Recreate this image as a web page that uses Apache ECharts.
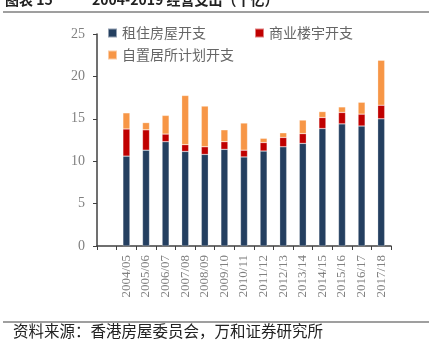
<!DOCTYPE html>
<html>
<head>
<meta charset="utf-8">
<script src="https://cdn.jsdelivr.net/npm/echarts@6/dist/echarts.min.js"></script>
<style>
  html, body { margin: 0; padding: 0; background: #fff; }
</style>
</head>
<body>
<div id="chart" style="width: 429px; height: 350px;"></div>
<script>
    // 年份（第一个为空位）
    var years = ['', '2004/05', '2005/06', '2006/07', '2007/08', '2008/09', '2009/10', '2010/11',
        '2011/12', '2012/13', '2013/14', '2014/15', '2015/16', '2016/17', '2017/18'];
    // 租住房屋开支
    var rentData = ['-', 10.6, 11.3, 12.3, 11.15, 10.8, 11.4, 10.5, 11.2, 11.7, 12.1, 13.85, 14.4, 14.15, 15.0];
    // 商业楼宇开支
    var commData = ['-', 3.2, 2.4, 0.9, 0.8, 0.9, 0.9, 0.8, 1.0, 1.1, 1.15, 1.3, 1.35, 1.4, 1.6];
    // 自置居所计划开支
    var hosData = ['-', 1.9, 0.85, 2.2, 5.8, 4.8, 1.4, 3.2, 0.5, 0.55, 1.6, 0.7, 0.65, 1.4, 5.3];
    var yTicks = [0, 5, 10, 15, 20, 25];

    var serif = '"Liberation Serif", "Noto Sans CJK SC", serif';
    var cjk = '"Noto Sans CJK SC", sans-serif';

    var chart = echarts.init(document.getElementById('chart'));
    chart.setOption({
        animation: false,
        color: ['#243F60', '#C00000', '#F79646'],
        grid: {
            left: 97,
            right: 38,
            top: 34,
            bottom: 104
        },
        legend: [{
            data: ['租住房屋开支', '商业楼宇开支'],
            left: 107,
            top: 26,
            padding: 0,
            itemWidth: 9,
            itemHeight: 9,
            itemGap: 48,
            icon: 'rect',
            textStyle: {color: '#666', fontSize: 14, fontFamily: cjk}
        }, {
            data: ['自置居所计划开支'],
            left: 107,
            top: 48,
            padding: 0,
            itemWidth: 9,
            itemHeight: 9,
            icon: 'rect',
            textStyle: {color: '#666', fontSize: 14, fontFamily: cjk}
        }],
        xAxis: {
            type: 'category',
            data: years,
            axisLine: {lineStyle: {color: '#404040', width: 1.5}},
            axisTick: {show: true, length: 4, lineStyle: {color: '#404040'}},
            axisLabel: {
                rotate: 90,
                interval: 0,
                color: '#808080',
                fontSize: 13,
                fontFamily: serif,
                margin: 9
            }
        },
        yAxis: {
            type: 'value',
            min: yTicks[0],
            max: yTicks[yTicks.length - 1],
            interval: 5,
            axisLine: {show: true, lineStyle: {color: '#404040', width: 1.5}},
            axisTick: {show: true, length: 4, lineStyle: {color: '#404040'}},
            splitLine: {show: false},
            axisLabel: {color: '#808080', fontSize: 14, fontFamily: serif, margin: 12}
        },
        series: [{
            name: '租住房屋开支',
            type: 'bar',
            stack: 'total',
            barWidth: 7,
            data: rentData,
            itemStyle: {borderColor: 'rgba(255,255,255,0.5)', borderWidth: 0.5}
        }, {
            name: '商业楼宇开支',
            type: 'bar',
            stack: 'total',
            barWidth: 7,
            data: commData,
            itemStyle: {borderColor: 'rgba(255,255,255,0.5)', borderWidth: 0.5}
        }, {
            name: '自置居所计划开支',
            type: 'bar',
            stack: 'total',
            barWidth: 7,
            data: hosData,
            itemStyle: {borderColor: 'rgba(255,255,255,0.5)', borderWidth: 0.5}
        }],
        graphic: [{
            type: 'text',
            left: 5,
            top: -7,
            style: {text: '图表 15', fill: '#222', font: 'bold 14px ' + cjk}
        }, {
            type: 'text',
            left: 92,
            top: -7,
            style: {text: '2004-2019 经营支出（十亿）', fill: '#222', font: 'bold 14px ' + cjk}
        }, {
            type: 'line',
            shape: {x1: 3, y1: 12, x2: 429, y2: 12},
            style: {stroke: '#404040', lineWidth: 1.2}
        }, {
            type: 'line',
            shape: {x1: 3, y1: 322, x2: 429, y2: 322},
            style: {stroke: '#404040', lineWidth: 1.2}
        }, {
            type: 'text',
            left: 13,
            top: 323,
            style: {text: '资料来源：香港房屋委员会，万和证券研究所', fill: '#222', font: '15.5px ' + cjk}
        }]
    });
</script>
</body>
</html>
